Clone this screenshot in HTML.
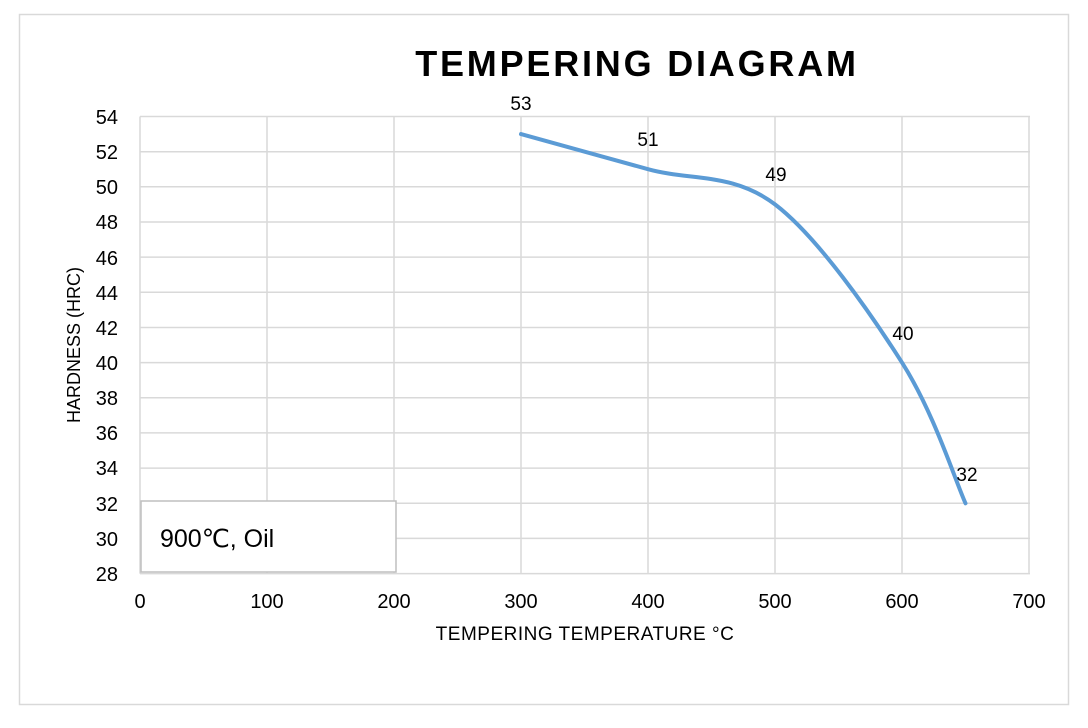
<!DOCTYPE html>
<html><head><style>body{margin:0;background:#fff}</style></head><body>
<svg width="1088" height="723" xmlns="http://www.w3.org/2000/svg" font-family="Liberation Sans, Arial, sans-serif">
<rect x="0" y="0" width="1088" height="723" fill="#fff"/>
<rect x="19.5" y="14.5" width="1049" height="690" fill="#fff" stroke="#d9d9d9" stroke-width="1.5"/>
<text x="637" y="76" text-anchor="middle" font-size="36" font-weight="bold" letter-spacing="2.8" fill="#000">TEMPERING DIAGRAM</text>
<g stroke="#d9d9d9" stroke-width="1.5">
<line x1="140" y1="116.5" x2="1030" y2="116.5"/><line x1="140" y1="151.7" x2="1030" y2="151.7"/><line x1="140" y1="186.8" x2="1030" y2="186.8"/><line x1="140" y1="222" x2="1030" y2="222"/><line x1="140" y1="257.1" x2="1030" y2="257.1"/><line x1="140" y1="292.3" x2="1030" y2="292.3"/><line x1="140" y1="327.5" x2="1030" y2="327.5"/><line x1="140" y1="362.6" x2="1030" y2="362.6"/><line x1="140" y1="397.8" x2="1030" y2="397.8"/><line x1="140" y1="432.9" x2="1030" y2="432.9"/><line x1="140" y1="468.1" x2="1030" y2="468.1"/><line x1="140" y1="503.3" x2="1030" y2="503.3"/><line x1="140" y1="538.4" x2="1030" y2="538.4"/><line x1="140" y1="573.6" x2="1030" y2="573.6"/>
<line x1="140" y1="116.5" x2="140" y2="573.6"/><line x1="267" y1="116.5" x2="267" y2="573.6"/><line x1="394" y1="116.5" x2="394" y2="573.6"/><line x1="521" y1="116.5" x2="521" y2="573.6"/><line x1="648" y1="116.5" x2="648" y2="573.6"/><line x1="775" y1="116.5" x2="775" y2="573.6"/><line x1="902" y1="116.5" x2="902" y2="573.6"/><line x1="1029" y1="116.5" x2="1029" y2="573.6"/>
</g>
<g font-size="20" fill="#000" text-anchor="end">
<text x="118" y="124">54</text><text x="118" y="159">52</text><text x="118" y="194">50</text><text x="118" y="229">48</text><text x="118" y="265">46</text><text x="118" y="300">44</text><text x="118" y="335">42</text><text x="118" y="370">40</text><text x="118" y="405">38</text><text x="118" y="440">36</text><text x="118" y="475">34</text><text x="118" y="511">32</text><text x="118" y="546">30</text><text x="118" y="581">28</text>
</g>
<g font-size="20" fill="#000" text-anchor="middle">
<text x="140" y="608">0</text><text x="267" y="608">100</text><text x="394" y="608">200</text><text x="521" y="608">300</text><text x="648" y="608">400</text><text x="775" y="608">500</text><text x="902" y="608">600</text><text x="1029" y="608">700</text>
</g>
<text x="585" y="640" text-anchor="middle" font-size="19" letter-spacing="0.5" fill="#000">TEMPERING TEMPERATURE °C</text>
<text transform="translate(80,345) rotate(-90)" text-anchor="middle" font-size="18" fill="#000">HARDNESS (HRC)</text>
<path d="M521,134.1 C542.2,140 605.7,157.5 648,169.2 C690.3,180.9 732.7,172.2 775,204.4 C817.3,236.6 870.3,312.8 902,362.6 C933.8,412.4 954.9,479.8 965.5,503.3" fill="none" stroke="#5b9bd5" stroke-width="4" stroke-linecap="round"/>
<g font-size="19" fill="#000" text-anchor="middle">
<text x="521" y="110">53</text><text x="648" y="146">51</text><text x="776" y="181">49</text><text x="903" y="340">40</text><text x="967" y="481">32</text>
</g>
<rect x="141" y="501" width="255" height="71" fill="#fff" stroke="#bfbfbf" stroke-width="1.5"/>
<text x="160" y="547" font-size="25" fill="#000">900℃, Oil</text>
</svg>
</body></html>
